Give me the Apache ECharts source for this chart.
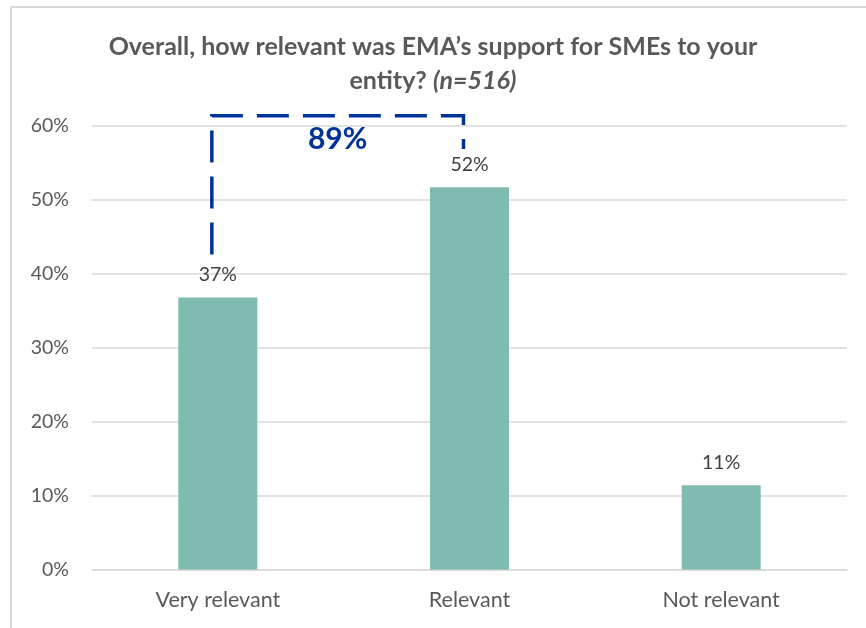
<!DOCTYPE html>
<html>
<head>
<meta charset="utf-8">
<script src="https://cdn.jsdelivr.net/npm/echarts@6/dist/echarts.min.js"></script>
<style>
html,body{margin:0;padding:0;background:#fff;}
#chart{width:866px;height:628px;}
</style>
</head>
<body>
<div id="chart"></div>
<script>
// Data
var categories = ['Very relevant', 'Relevant', 'Not relevant'];
var values = [36.8, 51.7, 11.4];
var yTicks = [0, 10, 20, 30, 40, 50, 60];
// Bracket annotation (category index, value %)
var bracketX = [0, 0, 1, 1];
var bracketY = [42.6, 61.4, 61.4, 56.9];
var bracketLabel = '89%';
var bracketLabelY = 58.2;

var FONT = 'Lato';
var chart = echarts.init(document.getElementById('chart'), null, {renderer: 'canvas'});

var option = {
  backgroundColor: '#ffffff',
  animation: false,
  title: {
    left: 'center',
    top: 25,
    text: '{b|Overall, how relevant was EMA\u2019s support for SMEs to your}\n{b|entity? }{i|(n=516)}',
    textStyle: {
      rich: {
        b: {fontFamily: FONT, fontWeight: 'bold', fontSize: 25, color: '#595959', lineHeight: 34},
        i: {fontFamily: FONT, fontWeight: 'bold', fontStyle: 'italic', fontSize: 25, color: '#595959', lineHeight: 34}
      }
    }
  },
  graphic: [
    {type: 'line', shape: {x1: 11, y1: 7, x2: 11, y2: 628}, style: {stroke: '#d9d9d9', lineWidth: 2}, silent: true},
    {type: 'line', shape: {x1: 11, y1: 7, x2: 866, y2: 7}, style: {stroke: '#d9d9d9', lineWidth: 2}, silent: true}
  ],
  grid: {left: 92, right: 19, top: 126, bottom: 58.5, containLabel: false},
  xAxis: {
    type: 'category',
    data: categories,
    axisLine: {show: true, lineStyle: {color: '#d9d9d9', width: 1.5}},
    axisTick: {show: false},
    axisLabel: {fontFamily: FONT, fontSize: 21.5, color: '#595959', margin: 20}
  },
  yAxis: {
    type: 'value',
    min: yTicks[0],
    max: yTicks[yTicks.length - 1],
    interval: 10,
    axisLine: {show: false},
    axisTick: {show: false},
    splitLine: {lineStyle: {color: '#d9d9d9', width: 1.5}},
    axisLabel: {fontFamily: FONT, fontSize: 19.5, color: '#595959', margin: 23, formatter: '{value}%'}
  },
  series: [
    {
      type: 'bar',
      data: values,
      barWidth: 79,
      itemStyle: {color: '#7fbbb1'},
      label: {
        show: true,
        position: 'top',
        distance: 13,
        fontFamily: FONT,
        fontSize: 19.5,
        color: '#404040',
        formatter: function (p) { return Math.round(p.value) + '%'; }
      },
      z: 2
    },
    {
      type: 'custom',
      clip: false,
      silent: true,
      z: 5,
      data: [0],
      renderItem: function (params, api) {
        var pts = [];
        for (var k = 0; k < bracketX.length; k++) {
          var c = api.coord([bracketX[k], bracketY[k]]);
          pts.push([c[0] - 6, c[1]]);
        }
        var a = api.coord([bracketX[1], bracketLabelY]);
        var b = api.coord([bracketX[2], bracketLabelY]);
        return {
          type: 'group',
          children: [
            {
              type: 'polyline',
              shape: {points: pts},
              style: {stroke: '#003399', lineWidth: 3.5, fill: null, lineDash: [32, 14]}
            },
            {
              type: 'text',
              style: {
                text: bracketLabel,
                x: (a[0] + b[0]) / 2 - 6,
                y: a[1],
                align: 'center',
                verticalAlign: 'middle',
                fontFamily: FONT,
                fontWeight: 'bold',
                fontSize: 30,
                fill: '#003399'
              }
            }
          ]
        };
      }
    }
  ]
};
chart.setOption(option);
</script>
</body>
</html>
